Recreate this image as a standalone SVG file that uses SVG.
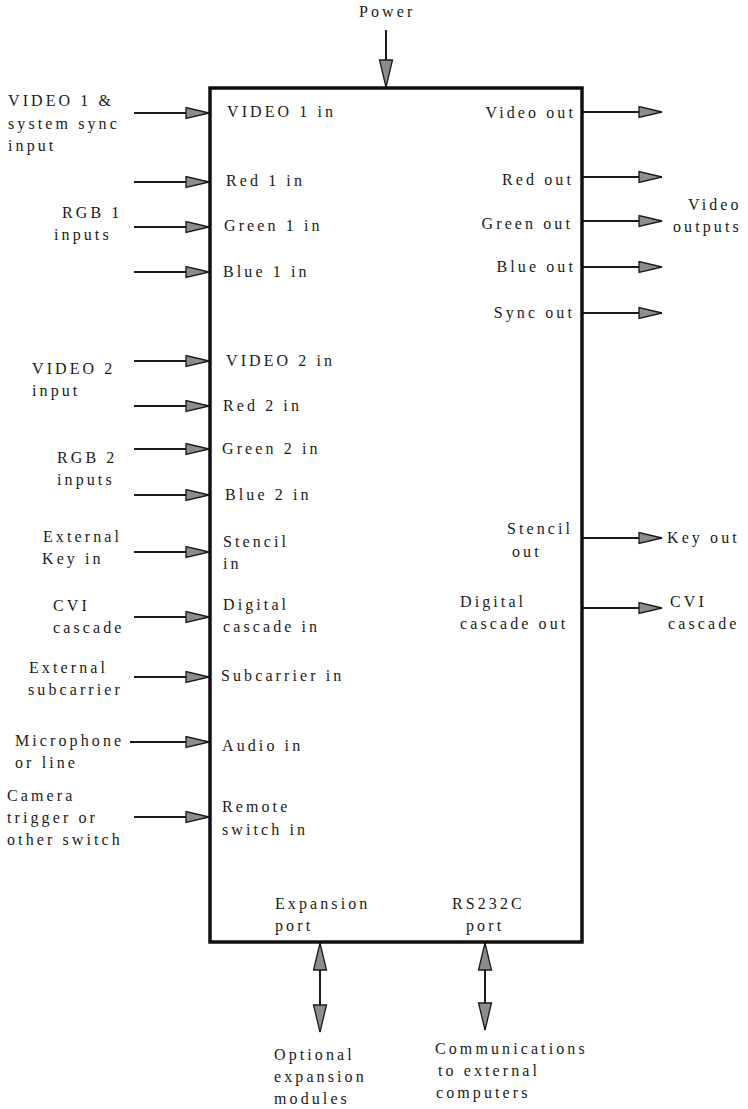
<svg xmlns="http://www.w3.org/2000/svg" width="748" height="1109" viewBox="0 0 748 1109">
<style>
text{font-family:"Liberation Serif","Times New Roman",serif;font-size:16px;letter-spacing:3.1px;fill:#1a1a1a}
.e{text-anchor:end}
.box{fill:none;stroke:#111;stroke-width:3.5}
.c{stroke:#1a1a1a;stroke-width:2;fill:none}
</style>
<defs>
<marker id="ah" markerUnits="userSpaceOnUse" markerWidth="26" markerHeight="14" refX="24" refY="6.5" orient="auto-start-reverse" viewBox="0 0 26 14">
<path d="M1,1 L24,6.5 L1,12 Z" fill="#8c8c8c" stroke="#1a1a1a" stroke-width="1.3" stroke-linejoin="miter"/>
</marker>
<marker id="av" markerUnits="userSpaceOnUse" markerWidth="30" markerHeight="16" refX="28" refY="7.5" orient="auto-start-reverse" viewBox="0 0 30 16">
<path d="M1,1 L28,7.5 L1,14 Z" fill="#8c8c8c" stroke="#1a1a1a" stroke-width="1.3"/>
</marker>
</defs>
<rect width="748" height="1109" fill="#fff"/>

<g id="connectors">
<line class="c" x1="386" y1="30" x2="386" y2="87" marker-end="url(#av)"/>
<line class="c" x1="134" y1="113" x2="209" y2="113" marker-end="url(#ah)"/>
<line class="c" x1="134" y1="182" x2="209" y2="182" marker-end="url(#ah)"/>
<line class="c" x1="134" y1="227" x2="209" y2="227" marker-end="url(#ah)"/>
<line class="c" x1="134" y1="272" x2="209" y2="272" marker-end="url(#ah)"/>
<line class="c" x1="134" y1="361" x2="209" y2="361" marker-end="url(#ah)"/>
<line class="c" x1="134" y1="406" x2="209" y2="406" marker-end="url(#ah)"/>
<line class="c" x1="134" y1="449" x2="209" y2="449" marker-end="url(#ah)"/>
<line class="c" x1="134" y1="495" x2="209" y2="495" marker-end="url(#ah)"/>
<line class="c" x1="134" y1="552" x2="209" y2="552" marker-end="url(#ah)"/>
<line class="c" x1="134" y1="617" x2="209" y2="617" marker-end="url(#ah)"/>
<line class="c" x1="134" y1="677" x2="209" y2="677" marker-end="url(#ah)"/>
<line class="c" x1="130" y1="742" x2="209" y2="742" marker-end="url(#ah)"/>
<line class="c" x1="134" y1="817" x2="209" y2="817" marker-end="url(#ah)"/>
<line class="c" x1="583" y1="112" x2="662" y2="112" marker-end="url(#ah)"/>
<line class="c" x1="583" y1="177" x2="662" y2="177" marker-end="url(#ah)"/>
<line class="c" x1="583" y1="221" x2="662" y2="221" marker-end="url(#ah)"/>
<line class="c" x1="583" y1="267" x2="662" y2="267" marker-end="url(#ah)"/>
<line class="c" x1="583" y1="313" x2="662" y2="313" marker-end="url(#ah)"/>
<line class="c" x1="583" y1="538" x2="662" y2="538" marker-end="url(#ah)"/>
<line class="c" x1="583" y1="608" x2="662" y2="608" marker-end="url(#ah)"/>
<line class="c" x1="320" y1="943" x2="320" y2="1032" marker-start="url(#av)" marker-end="url(#av)"/>
<line class="c" x1="485" y1="943" x2="485" y2="1030" marker-start="url(#av)" marker-end="url(#av)"/>
</g>

<g id="mixer">
<rect class="box" x="210" y="88" width="372" height="854"/>
<text x="227" y="117">VIDEO 1 in</text>
<text x="226" y="186">Red 1 in</text>
<text x="224" y="231">Green 1 in</text>
<text x="223" y="277">Blue 1 in</text>
<text x="226" y="366">VIDEO 2 in</text>
<text x="223" y="411">Red 2 in</text>
<text x="222" y="454">Green 2 in</text>
<text x="225" y="500">Blue 2 in</text>
<text x="223" y="547">Stencil</text>
<text x="223" y="569">in</text>
<text x="223" y="610">Digital</text>
<text x="223" y="632">cascade in</text>
<text x="221" y="681">Subcarrier in</text>
<text x="222" y="751">Audio in</text>
<text x="222" y="812">Remote</text>
<text x="222" y="835">switch in</text>
<text class="e" x="576" y="118">Video out</text>
<text class="e" x="574" y="185">Red out</text>
<text class="e" x="573" y="229">Green out</text>
<text class="e" x="576" y="272">Blue out</text>
<text class="e" x="575" y="318">Sync out</text>
<text x="507" y="534">Stencil</text>
<text x="512" y="557">out</text>
<text x="460" y="607">Digital</text>
<text x="460" y="629">cascade out</text>
<text x="275" y="909">Expansion</text>
<text x="275" y="931">port</text>
<text x="452" y="909">RS232C</text>
<text x="466" y="931">port</text>
</g>

<g id="power"><text x="359" y="17">Power</text></g>
<g id="video1-src"><text x="8" y="106">VIDEO 1 &amp;</text><text x="8" y="129">system sync</text><text x="8" y="151">input</text></g>
<g id="rgb1-src"><text x="62" y="218">RGB 1</text><text x="54" y="240">inputs</text></g>
<g id="video2-src"><text x="32" y="374">VIDEO 2</text><text x="32" y="396">input</text></g>
<g id="rgb2-src"><text x="57" y="463">RGB 2</text><text x="57" y="485">inputs</text></g>
<g id="extkey-src"><text x="43" y="542">External</text><text x="42" y="564">Key in</text></g>
<g id="cvi-src"><text x="53" y="611">CVI</text><text x="53" y="633">cascade</text></g>
<g id="subc-src"><text x="29" y="673">External</text><text x="28" y="695">subcarrier</text></g>
<g id="mic-src"><text x="15" y="746">Microphone</text><text x="15" y="768">or line</text></g>
<g id="cam-src"><text x="7" y="801">Camera</text><text x="7" y="823">trigger or</text><text x="7" y="845">other switch</text></g>
<g id="video-outputs"><text x="688" y="210">Video</text><text x="673" y="232">outputs</text></g>
<g id="keyout"><text x="667" y="543">Key out</text></g>
<g id="cvi-out"><text x="670" y="607">CVI</text><text x="668" y="629">cascade</text></g>
<g id="expansion-modules"><text x="274" y="1060">Optional</text><text x="274" y="1082">expansion</text><text x="274" y="1104">modules</text></g>
<g id="computers"><text x="435" y="1054">Communications</text><text x="438" y="1076">to external</text><text x="436" y="1098">computers</text></g>
</svg>
